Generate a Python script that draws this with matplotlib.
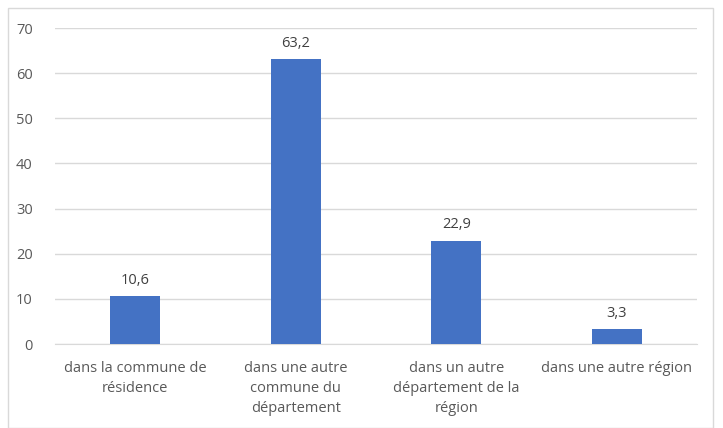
import matplotlib.pyplot as plt
from matplotlib.patches import Rectangle

categories = ["dans la commune de\nrésidence",
              "dans une autre\ncommune du\ndépartement",
              "dans un autre\ndépartement de la\nrégion",
              "dans une autre région"]
values = [10.6, 63.2, 22.9, 3.3]
yticks = [0, 10, 20, 30, 40, 50, 60, 70]

plt.rcParams['font.family'] = ['Open Sans', 'DejaVu Sans']

fig = plt.figure(figsize=(7.23, 4.28), dpi=100)
ax = fig.add_axes([55/723, 84/428, 642/723, 316/428])

x = range(len(values))
bars = ax.bar(x, values, width=0.31, color='#4472C4', zorder=3)
for xi, v in zip(x, values):
    ax.text(xi, v + 1.8, f"{v:.1f}".replace('.', ','), ha='center', va='bottom',
            fontsize=10.5, color='#404040')

ax.set_xlim(-0.5, 3.5)
ax.set_ylim(0, 70)
ax.set_yticks(yticks)
ax.set_yticklabels([str(t) for t in yticks], fontsize=10.5, color='#595959')
ax.set_xticks(list(x))
ax.set_xticklabels(categories, fontsize=10.5, color='#595959', linespacing=1.45)
ax.grid(axis='y', color='#D9D9D9', linewidth=1, zorder=0)
ax.tick_params(axis='both', length=0)
ax.tick_params(axis='y', pad=16)
ax.tick_params(axis='x', pad=12)
for s in ['top', 'right', 'left']:
    ax.spines[s].set_visible(False)
ax.spines['bottom'].set_color('#D9D9D9')

fig.patches.append(Rectangle((8/723, 0.5/428), 705/723, 420/428, transform=fig.transFigure,
                             fill=False, edgecolor='#D9D9D9', linewidth=1))

fig.savefig('out.png', dpi=100)
